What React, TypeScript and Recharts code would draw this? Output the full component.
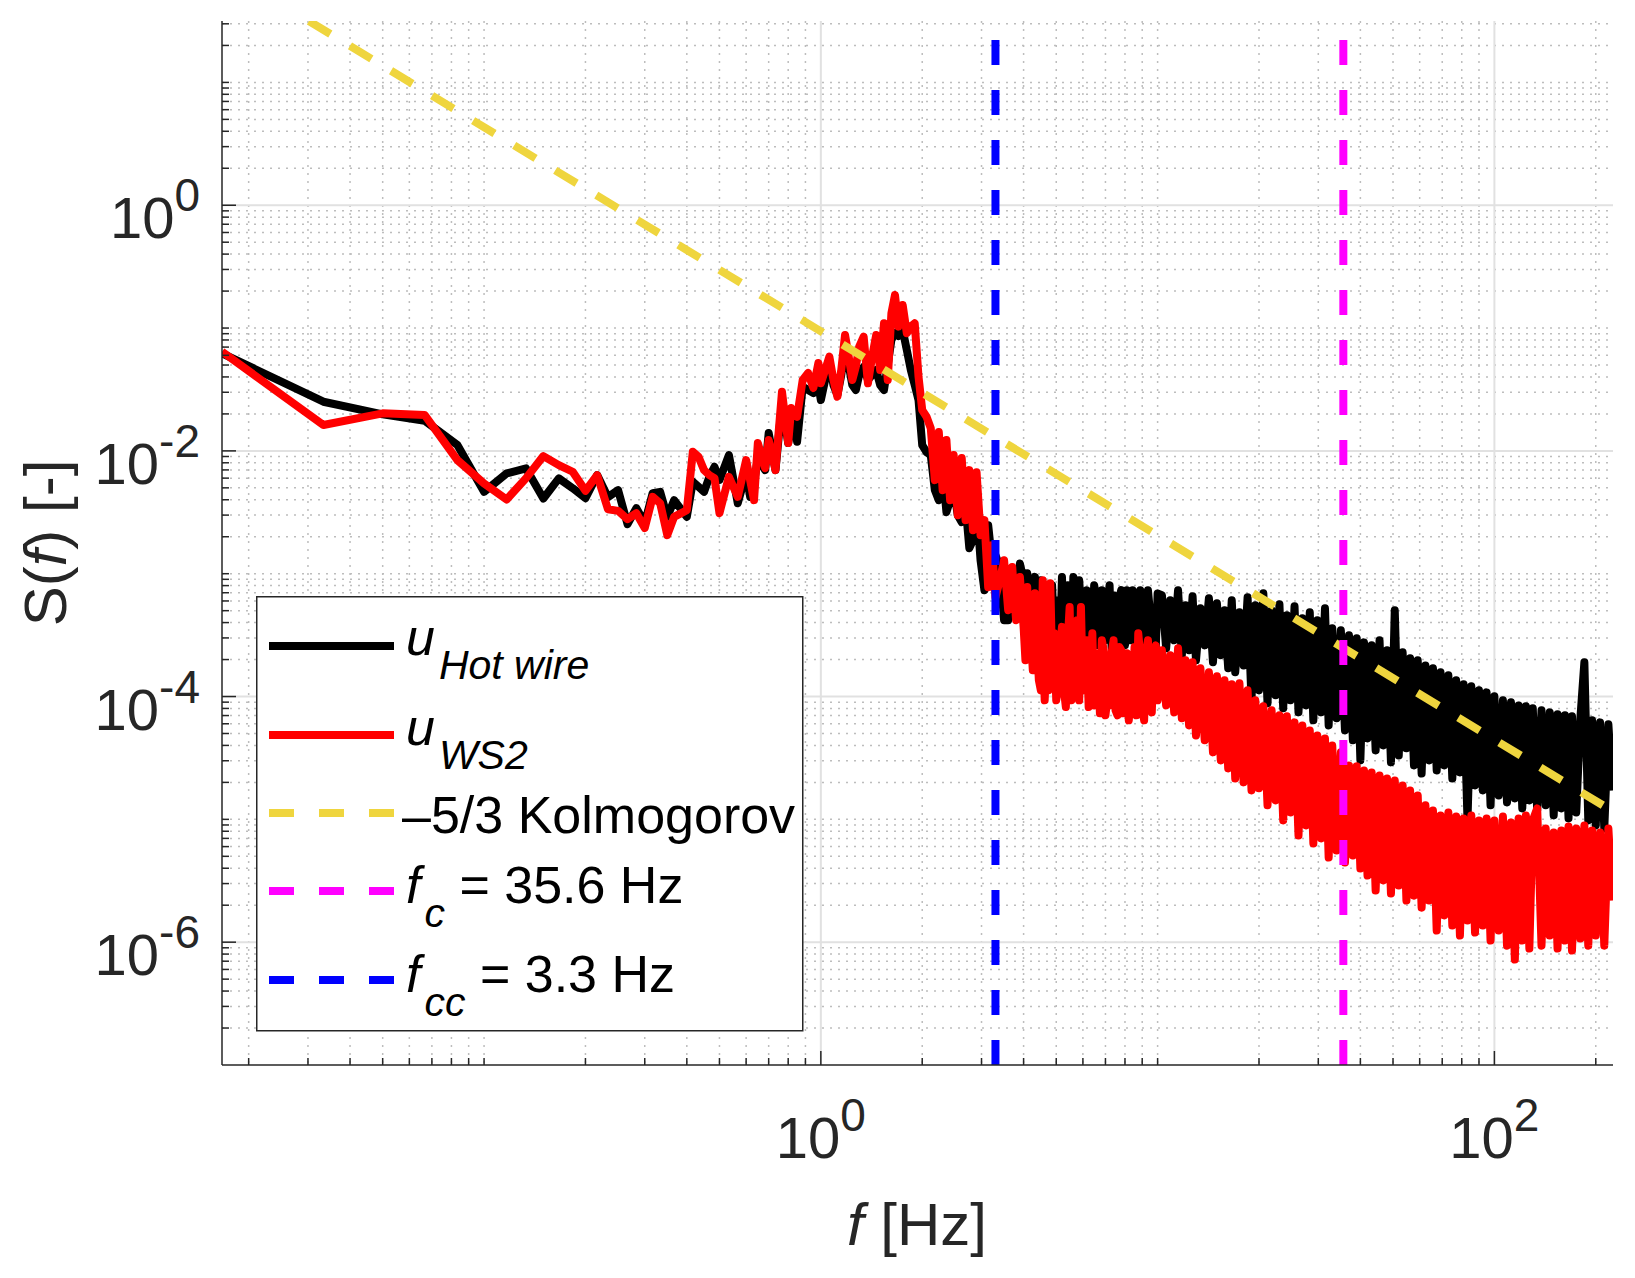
import React from 'react';
import { LineChart, Line, XAxis, YAxis, CartesianGrid, ReferenceLine } from 'recharts';

// low frequency part, k/60 Hz bins
const lowFreq = [
  0.01667, 0.03333, 0.05, 0.06667, 0.08333, 0.1, 0.1167, 0.1333, 0.15, 0.1667, 0.1833, 0.2, 0.2167, 0.2333, 0.25,
  0.2667, 0.2833, 0.3, 0.3167, 0.3333, 0.35, 0.3667, 0.4, 0.4167, 0.4333, 0.45, 0.4667, 0.4833, 0.5, 0.5333, 0.5667,
  0.6, 0.6167, 0.6333, 0.65, 0.6833, 0.7, 0.7333, 0.7667, 0.8, 0.8167, 0.8333, 0.85, 0.8833, 0.9167, 0.95, 0.9833,
];
const hotWireLow = [
  0.0623, 0.02513, 0.01984, 0.01759, 0.01115, 0.00464, 0.00656, 0.0072, 0.0041, 0.00597, 0.00497, 0.00412, 0.00635,
  0.0042, 0.00479, 0.00253, 0.00342, 0.00258, 0.00453, 0.00464, 0.0029, 0.00397, 0.0029, 0.0056, 0.0051, 0.00464,
  0.00615, 0.00742, 0.00578, 0.00924, 0.00375, 0.00659, 0.00422, 0.00543, 0.00874, 0.00697, 0.01397, 0.00697,
  0.02453, 0.01158, 0.01572, 0.0215, 0.01187, 0.0333, 0.0313, 0.02958, 0.03438,
];
const ws2Low = [
  0.0642, 0.01623, 0.02021, 0.01958, 0.00841, 0.00543, 0.00402, 0.006, 0.00907, 0.00766, 0.00676, 0.00473, 0.00635,
  0.00335, 0.00325, 0.00278, 0.00311, 0.00235, 0.00422, 0.00375, 0.00206, 0.0029, 0.00329, 0.00983, 0.00895, 0.00697,
  0.00635, 0.006, 0.00311, 0.00615, 0.00422, 0.00841, 0.00578, 0.00397, 0.01158, 0.00724, 0.01225, 0.00697, 0.0303,
  0.01158, 0.02233, 0.0203, 0.01896, 0.03776, 0.04306, 0.0325, 0.0519,
];

// 1 - 10 Hz
const freqD1 = [
  1.0, 1.03, 1.06, 1.09, 1.12, 1.15, 1.18, 1.21, 1.24, 1.27, 1.3, 1.34, 1.38, 1.42, 1.46, 1.5, 1.54, 1.58, 1.62, 1.66,
  1.7, 1.75, 1.8, 1.85, 1.9, 1.95, 2.0, 2.06, 2.12, 2.18, 2.24, 2.3, 2.36, 2.42, 2.48, 2.55, 2.62, 2.69, 2.76, 2.83,
  2.9, 2.98, 3.06, 3.14, 3.22, 3.3, 3.4, 3.5, 3.6, 3.7, 3.8, 3.9, 4.0, 4.1, 4.2, 4.32, 4.44, 4.56, 4.68, 4.8, 4.93,
  5.06, 5.2, 5.34, 5.48, 5.62, 5.77, 5.92, 6.08, 6.24, 6.4, 6.57, 6.74, 6.92, 7.1, 7.3, 7.5, 7.7, 7.9, 8.1, 8.32,
  8.54, 8.76, 9.0, 9.24, 9.48, 9.74,
];
const hotWireD1 = [
  0.02594, 0.0378, 0.053, 0.0344, 0.0285, 0.0415, 0.0702, 0.0501, 0.0344, 0.0313, 0.0415, 0.0482, 0.0378, 0.0415,
  0.0456, 0.0344, 0.0313, 0.0501, 0.08, 0.0912, 0.0863, 0.0965, 0.0663, 0.0456, 0.0344, 0.02594, 0.01115, 0.00977,
  0.00924, 0.00479, 0.00397, 0.00697, 0.00317, 0.00397, 0.00498, 0.00299, 0.00263, 0.00361, 0.001614, 0.001875,
  0.00361, 0.001288, 0.000734, 0.00248, 0.001288, 0.001414, 0.001136, 0.000418, 0.000418, 0.000781, 0.000608,
  0.001211, 0.000885, 0.001009, 0.000418, 0.000942, 0.000536, 0.000781, 0.000418, 0.00069, 0.000327, 0.000418,
  0.000942, 0.000476, 0.000418, 0.000942, 0.000418, 0.000536, 0.000305, 0.000647, 0.000327, 0.000647, 0.000305,
  0.000369, 0.000572, 0.000253, 0.000327, 0.000647, 0.000287, 0.000734, 0.000287, 0.000536, 0.000369, 0.000536,
  0.000253, 0.000504, 0.000287,
];
const ws2D1 = [
  0.0355, 0.0456, 0.0585, 0.0378, 0.0276, 0.0456, 0.0878, 0.0585, 0.0378, 0.0485, 0.0706, 0.0851, 0.0355, 0.0585,
  0.0878, 0.0456, 0.1094, 0.0378, 0.132, 0.186, 0.1027, 0.1542, 0.0907, 0.1027, 0.1094, 0.0402, 0.0215, 0.01896,
  0.01534, 0.00578, 0.01422, 0.00479, 0.01225, 0.00397, 0.00924, 0.00299, 0.00874, 0.00273, 0.00697, 0.00226,
  0.00671, 0.00206, 0.00273, 0.000776, 0.001706, 0.000644, 0.000885, 0.001288, 0.000504, 0.001136, 0.000418,
  0.000942, 0.000369, 0.000781, 0.000327, 0.000694, 0.0001355, 0.000885, 0.000225, 0.000836, 0.000327, 0.0001195,
  0.000369, 8.21e-5, 0.000536, 0.0001061, 0.000418, 0.000536, 0.000197, 8.21e-5, 0.000327, 0.000225, 7.3e-5,
  0.000238, 9.9e-5, 0.000225, 7.72e-5, 0.000253, 7.3e-5, 0.000225, 9.9e-5, 0.000253, 0.000327, 8.21e-5, 0.000225,
  0.0001061, 0.000238,
];

// extra bins read between 4 and 10 Hz, where the band is densest
const freqD1b = [
  4.05, 4.15, 4.26, 4.38, 4.5, 4.62, 4.74, 4.86, 5.0, 5.13, 5.27, 5.41, 5.55, 5.7, 5.85, 6.0, 6.16, 6.32, 6.48, 6.65,
  6.83, 7.0, 7.2, 7.4, 7.6, 7.8, 8.0, 8.21, 8.43, 8.65, 8.88, 9.12, 9.36, 9.61, 9.87,
];
const hotWireD1b = [
  3.46e-4, 6.08e-4, 7.34e-4, 2.87e-4, 8.85e-4, 7.34e-4, 2.87e-4, 8.06e-4, 6.08e-4, 2.61e-4, 2.87e-4, 8.06e-4,
  2.61e-4, 7.34e-4, 8.85e-4, 2.87e-4, 7.34e-4, 2.87e-4, 8.06e-4, 2.61e-4, 7.34e-4, 2.87e-4, 8.06e-4, 6.68e-4,
  2.61e-4, 7.34e-4, 2.61e-4, 6.08e-4, 7.34e-4, 2.38e-4, 7.34e-4, 6.68e-4, 7.34e-4, 2.38e-4, 2.38e-4,
];
const ws2D1b = [
  1.97e-4, 2.87e-4, 1.635e-4, 2.87e-4, 1.123e-4, 9.31e-5, 1.123e-4, 1.97e-4, 9.31e-5, 2.38e-4, 1.123e-4, 2.87e-4,
  9.31e-5, 1.97e-4, 9.31e-5, 1.123e-4, 2.87e-4, 1.123e-4, 8.47e-5, 1.97e-4, 2.87e-4, 7.03e-5, 8.47e-5, 2.87e-4,
  7.03e-5, 2.38e-4, 8.47e-5, 6.4e-5, 9.31e-5, 7.03e-5, 2.17e-4, 6.4e-5, 2.87e-4, 7.43e-5, 2.61e-4,
];

// 10 - 100 Hz
const freqD2 = [
  10.0, 10.3, 10.6, 10.9, 11.2, 11.5, 11.8, 12.1, 12.4, 12.7, 13.0, 13.4, 13.8, 14.2, 14.6, 15.0, 15.4, 15.8, 16.2,
  16.6, 17.0, 17.5, 18.0, 18.5, 19.0, 19.5, 20.0, 20.6, 21.2, 21.8, 22.4, 23.0, 23.6, 24.2, 24.8, 25.5, 26.2, 26.9,
  27.6, 28.3, 29.0, 29.8, 30.6, 31.4, 32.2, 33.0, 34.0, 35.0, 36.0, 37.0, 38.0, 39.0, 40.0, 41.0, 42.0, 43.2, 44.4,
  45.6, 46.8, 48.0, 49.3, 50.6, 52.0, 53.4, 54.8, 56.2, 57.7, 59.2, 60.8, 62.4, 64.0, 65.7, 67.4, 69.2, 71.0, 73.0,
  75.0, 77.0, 79.0, 81.0, 83.2, 85.4, 87.6, 90.0, 92.4, 94.8, 97.4,
];
const hotWireD2 = [
  0.00069, 0.000668, 0.000247, 0.000608, 0.000287, 0.000734, 0.000217, 0.000553, 0.000238, 0.000656, 0.000197,
  0.000523, 0.000261, 0.000632, 0.00019, 0.000575, 0.000217, 0.000504, 0.00017, 0.000608, 0.0001575, 0.000485,
  0.000179, 0.000644, 9.31e-5, 0.000553, 0.0001123, 0.000694, 8.8e-5, 0.000504, 0.0001022, 0.000564, 8.02e-5,
  0.000459, 9.31e-5, 0.000544, 7.43e-5, 0.000434, 8.47e-5, 0.000485, 6.4e-5, 0.000418, 7.43e-5, 0.000523, 5.82e-5,
  0.00036, 6.65e-5, 0.000346, 5.3e-5, 0.000315, 4.4e-5, 0.000298, 3.02e-5, 0.000276, 4.56e-5, 0.000261, 3.64e-5,
  0.000287, 4.0e-5, 0.000238, 2.91e-5, 0.000504, 3.31e-5, 0.000229, 3.79e-5, 0.000205, 2.75e-5, 0.000197, 2.36e-5,
  0.000179, 3.02e-5, 0.00017, 2.5e-5, 0.0001575, 2.75e-5, 0.0001488, 2.15e-5, 0.0001355, 2.41e-5, 0.0001257, 9.8e-6,
  0.0001211, 1.89e-5, 0.0001123, 1.72e-5, 0.0001081, 1.3e-5,
];
const ws2D2 = [
  9.31e-5, 0.000238, 8.47e-5, 0.000217, 7.43e-5, 0.000247, 6.65e-5, 0.000197, 5.82e-5, 0.00019, 4.82e-5, 0.00017,
  4.4e-5, 0.0001575, 3.51e-5, 0.0001462, 3.02e-5, 0.0001355, 2.6e-5, 0.0001257, 2.15e-5, 0.000128, 2.0e-5,
  0.0001123, 1.72e-5, 9.31e-5, 1.79e-5, 8.32e-5, 1.3e-5, 7.72e-5, 1.426e-5, 7.03e-5, 9.8e-6, 6.9e-5, 1.138e-5,
  6.16e-5, 7.39e-6, 5.82e-5, 8.92e-6, 5.3e-5, 6.36e-6, 4.82e-5, 6.99e-6, 4.56e-5, 4.89e-6, 4.0e-5, 5.58e-6, 3.51e-5,
  4.45e-6, 2.75e-5, 5.08e-6, 2.7e-5, 3.98e-6, 2.5e-5, 3.49e-6, 2.41e-5, 2.63e-6, 2.28e-5, 3.18e-6, 2.15e-5, 2.49e-6,
  2.075e-5, 2.89e-6, 1.89e-5, 2.18e-6, 1.72e-5, 2.39e-6, 1.565e-5, 1.91e-6, 1.3e-5, 2.18e-6, 1.182e-5, 1.243e-6,
  1.076e-5, 1.65e-6, 1.138e-5, 1.365e-6, 1.057e-5, 1.131e-6, 1.018e-5, 1.5e-6, 1.076e-5, 1.197e-6, 9.8e-6, 1.365e-6,
  1.018e-5, 1.03e-6,
];

// 100 - 225 Hz
const freqD3 = [
  100, 103, 106, 109, 112, 115, 118, 121, 124, 127, 130, 134, 138, 142, 146, 150, 154, 158, 162, 166, 170, 175, 180,
  185, 190, 195, 200, 206, 212, 218, 224,
];
const hotWireD3 = [
  0.0001004, 1.565e-5, 9.31e-5, 1.373e-5, 8.97e-5, 1.48e-5, 8.47e-5, 1.228e-5, 8.32e-5, 1.426e-5, 8.02e-5, 1.182e-5,
  7.72e-5, 1.3e-5, 7.43e-5, 1.076e-5, 7.16e-5, 1.228e-5, 7.03e-5, 1.018e-5, 6.9e-5, 1.138e-5, 6.65e-5, 0.00019,
  9.8e-6, 6.4e-5, 8.92e-6, 6.16e-5, 8.44e-6, 5.94e-5, 1.72e-5,
];
const ws2D3 = [
  9.8e-6, 1.243e-6, 1.057e-5, 9.37e-7, 9.44e-6, 7.22e-7, 1.018e-5, 1.03e-6, 1.076e-5, 8.87e-7, 9.8e-6, 1.228e-5,
  9.37e-7, 8.44e-6, 1.131e-6, 7.82e-6, 8.87e-7, 8.12e-6, 1.03e-6, 8.76e-6, 8.54e-7, 8.44e-6, 1.07e-6, 8.92e-6,
  9.37e-7, 8.12e-6, 1.131e-6, 7.82e-6, 9.37e-7, 8.44e-6, 2.18e-6,
];

const kolmogorovFreq = [0.0302, 225];
const kolmogorovS = [31.6, 1.16e-5];

const fcValue = 35.6;
const fccValue = 3.3;

const X_MIN = 1 / 60;
const X_MAX = 225;
const Y_MIN = 1e-7;
const Y_MAX = 31.62;

const xMajorTicks = [1, 100];
const xTickExponents = ['0', '2'];
const yMajorTicks = [1e-6, 1e-4, 1e-2, 1];
const yTickExponents = ['-6', '-4', '-2', '0'];
const minorSteps = [1, 2, 3, 4, 5, 6, 7, 8, 9];

const AXIS = '#262626';
const FONT = '"Liberation Sans", Arial, Helvetica, sans-serif';

const toPoints = (f: number[], s: number[]) => {
  const n = Math.min(f.length, s.length);
  return f.slice(0, n).map((v, i) => ({ f: v, s: s[i] }));
};
const byFreq = (a: { f: number }, b: { f: number }) => a.f - b.f;

const hotWireData = [
  ...toPoints(lowFreq, hotWireLow),
  ...toPoints(freqD1, hotWireD1),
  ...toPoints(freqD1b, hotWireD1b),
  ...toPoints(freqD2, hotWireD2),
  ...toPoints(freqD3, hotWireD3),
].sort(byFreq);
const ws2Data = [
  ...toPoints(lowFreq, ws2Low),
  ...toPoints(freqD1, ws2D1),
  ...toPoints(freqD1b, ws2D1b),
  ...toPoints(freqD2, ws2D2),
  ...toPoints(freqD3, ws2D3),
].sort(byFreq);
const kolmogorovData = toPoints(kolmogorovFreq, kolmogorovS);

const logTicks = (lo: number, hi: number, min: number, max: number) => {
  const out: number[] = [];
  for (let e = lo; e <= hi; e++) {
    for (const m of minorSteps) {
      const v = m * Math.pow(10, e);
      if (v > min * 1.0001 && v < max * 0.9999) out.push(v);
    }
  }
  return out;
};
const isIn = (v: number, list: number[]) => list.findIndex((m) => Math.abs(v / m - 1) < 1e-9);

const xAllTicks = logTicks(-2, 2, X_MIN, X_MAX);
const yAllTicks = logTicks(-7, 1, Y_MIN, Y_MAX);
const xMinorTicks = xAllTicks.filter((v) => isIn(v, xMajorTicks) < 0);
const yMinorTicks = yAllTicks.filter((v) => isIn(v, yMajorTicks) < 0);

const XTick = (props: any) => {
  const { x, y, payload, side } = props;
  const idx = isIn(payload.value, xMajorTicks);
  const len = idx >= 0 ? 14 : 7;
  const dir = side === 'bottom' ? -1 : 1;
  return (
    <g>
      <line x1={x} x2={x} y1={y} y2={y + dir * len} stroke={AXIS} strokeWidth={1.5} />
      {side === 'bottom' && idx >= 0 && (
        <text x={x} y={y + 93} textAnchor="middle" fontFamily={FONT} fontSize={58} fill={AXIS}>
          10
          <tspan dy={-27} fontSize={46}>
            {xTickExponents[idx]}
          </tspan>
        </text>
      )}
    </g>
  );
};

const YTick = (props: any) => {
  const { x, y, payload, side } = props;
  const idx = isIn(payload.value, yMajorTicks);
  const len = idx >= 0 ? 14 : 7;
  const dir = side === 'left' ? 1 : -1;
  return (
    <g>
      <line x1={x} x2={x + dir * len} y1={y} y2={y} stroke={AXIS} strokeWidth={1.5} />
      {side === 'left' && idx >= 0 && (
        <text x={x - 22} y={y + 33} textAnchor="end" fontFamily={FONT} fontSize={58} fill={AXIS}>
          10
          <tspan dy={-27} fontSize={46}>
            {yTickExponents[idx]}
          </tspan>
        </text>
      )}
    </g>
  );
};

const legendItems = [
  { color: '#000000', dash: undefined, base: 'u', sub: 'Hot wire', rest: '', italicBase: true },
  { color: '#ff0000', dash: undefined, base: 'u', sub: 'WS2', rest: '', italicBase: true },
  { color: '#efd53e', dash: '25 25', base: '\u20135/3 Kolmogorov', sub: '', rest: '', italicBase: false },
  { color: '#ff00ff', dash: '25 25', base: 'f', sub: 'c', rest: ' = 35.6 Hz', italicBase: true },
  { color: '#0000ff', dash: '25 25', base: 'f', sub: 'cc', rest: ' = 3.3 Hz', italicBase: true },
];
const legendLineY = [50, 139, 217, 295, 384];
const legendTextY = [59, 149, 237, 307, 396];

const LegendBox = () => (
  <svg width={548} height={436} style={{ position: 'absolute', left: 256, top: 596 }}>
    <rect x={0.75} y={0.75} width={546} height={434} fill="#ffffff" stroke={AXIS} strokeWidth={1.5} />
    {legendItems.map((it, i) => (
      <g key={i}>
        <line
          x1={13}
          x2={138}
          y1={legendLineY[i]}
          y2={legendLineY[i]}
          stroke={it.color}
          strokeWidth={8}
          strokeDasharray={it.dash}
        />
        <text
          x={it.italicBase ? 150 : 146}
          y={legendTextY[i]}
          fontFamily={FONT}
          fontSize={52}
          fill="#000"
          style={{ whiteSpace: 'pre' }}
        >
          <tspan fontStyle={it.italicBase ? 'italic' : 'normal'}>{it.base}</tspan>
          {it.sub && (
            <tspan fontStyle="italic" fontSize={41} dx={4} dy={24}>
              {it.sub}
            </tspan>
          )}
          {it.rest && <tspan dy={-24}>{it.rest}</tspan>}
        </text>
      </g>
    ))}
  </svg>
);

const App: React.FC = () => {
  return (
    <div style={{ position: 'absolute', left: 0, top: 0, width: 1635, height: 1278, background: '#ffffff' }}>
      <LineChart width={1635} height={1278} margin={{ top: 21, right: 22, bottom: 113, left: 72 }}>
        <CartesianGrid
          verticalValues={xMinorTicks}
          horizontalValues={yMinorTicks}
          stroke="#bdbdbd"
          strokeDasharray="2 6"
          strokeWidth={1.5}
        />
        <CartesianGrid verticalValues={xMajorTicks} horizontalValues={yMajorTicks} stroke="#e1e1e1" strokeWidth={2} />
        <XAxis
          dataKey="f"
          type="number"
          scale="log"
          domain={[X_MIN, X_MAX]}
          allowDataOverflow
          ticks={xAllTicks}
          interval={0}
          height={100}
          tickLine={false}
          tickSize={0}
          tickMargin={0}
          axisLine={{ stroke: AXIS, strokeWidth: 1.5 }}
          tick={<XTick side="bottom" />}
        />
        <XAxis
          xAxisId="top"
          orientation="top"
          dataKey="f"
          type="number"
          scale="log"
          domain={[X_MIN, X_MAX]}
          allowDataOverflow
          ticks={xAllTicks}
          interval={0}
          height={0}
          tickLine={false}
          tickSize={0}
          tickMargin={0}
          axisLine={{ stroke: AXIS, strokeWidth: 1.5 }}
          tick={<XTick side="top" />}
        />
        <YAxis
          type="number"
          scale="log"
          domain={[Y_MIN, Y_MAX]}
          allowDataOverflow
          ticks={yAllTicks}
          interval={0}
          width={150}
          tickLine={false}
          tickSize={0}
          tickMargin={0}
          axisLine={{ stroke: AXIS, strokeWidth: 1.5 }}
          tick={<YTick side="left" />}
        />
        <YAxis
          yAxisId="right"
          orientation="right"
          type="number"
          scale="log"
          domain={[Y_MIN, Y_MAX]}
          allowDataOverflow
          ticks={yAllTicks}
          interval={0}
          width={0}
          tickLine={false}
          tickSize={0}
          tickMargin={0}
          axisLine={{ stroke: AXIS, strokeWidth: 1.5 }}
          tick={<YTick side="right" />}
        />
        <Line
          data={hotWireData}
          dataKey="s"
          type="linear"
          stroke="#000000"
          strokeWidth={8}
          strokeLinejoin="round"
          dot={false}
          activeDot={false}
          isAnimationActive={false}
        />
        <Line
          data={ws2Data}
          dataKey="s"
          type="linear"
          stroke="#ff0000"
          strokeWidth={8}
          strokeLinejoin="round"
          dot={false}
          activeDot={false}
          isAnimationActive={false}
        />
        <Line
          data={kolmogorovData}
          dataKey="s"
          type="linear"
          stroke="#efd53e"
          strokeWidth={8}
          strokeDasharray="25 23"
          dot={false}
          activeDot={false}
          isAnimationActive={false}
        />
        <ReferenceLine x={fcValue} stroke="#ff00ff" strokeWidth={8} strokeDasharray="25 25" />
        <ReferenceLine x={fccValue} stroke="#0000ff" strokeWidth={8} strokeDasharray="25 25" />
      </LineChart>
      <svg width={1635} height={1278} style={{ position: 'absolute', left: 0, top: 0, pointerEvents: 'none' }}>
        <text x={917} y={1245} textAnchor="middle" fontFamily={FONT} fontSize={60} fill={AXIS}>
          <tspan fontStyle="italic">f</tspan> [Hz]
        </text>
        <text
          x={66}
          y={543}
          transform="rotate(-90 66 543)"
          textAnchor="middle"
          fontFamily={FONT}
          fontSize={60}
          fill={AXIS}
        >
          S(<tspan fontStyle="italic">f</tspan>) [-]
        </text>
      </svg>
      <LegendBox />
    </div>
  );
};

export default App;
